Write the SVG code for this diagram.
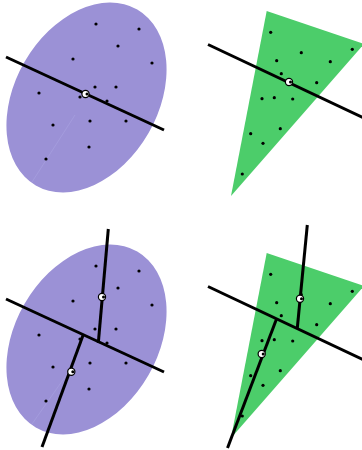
<svg xmlns="http://www.w3.org/2000/svg" width="362" height="450" viewBox="0 0 362 450">
<defs>
<style>
.ell{fill:#9b91d6}
.tri{fill:#4ccd6a}
.seam{stroke:#aaa2e0;stroke-width:0.6;fill:none}
.ln{stroke:#000;stroke-width:3;fill:none;stroke-linecap:butt}
.pt{fill:#000}
.cw{fill:#fff;stroke:#000;stroke-width:1.2}
</style>
<g id="cen">
<circle class="cw" cx="0" cy="0" r="3.6"/>
<circle class="pt" cx="1.5" cy="0" r="1.5"/>
</g>
</defs>

<g id="panel-ellipse-1">
<ellipse class="ell" cx="86.5" cy="97.5" rx="101.5" ry="71.5" transform="rotate(-60 86.5 97.5)"/>
<line class="seam" x1="75" y1="115" x2="32" y2="182"/>
<g id="dots-e1">
<circle class="pt" cx="96" cy="24" r="1.6"/><circle class="pt" cx="139" cy="29" r="1.6"/>
<circle class="pt" cx="118" cy="46" r="1.6"/><circle class="pt" cx="73" cy="59" r="1.6"/>
<circle class="pt" cx="152" cy="63" r="1.6"/><circle class="pt" cx="39" cy="93" r="1.6"/>
<circle class="pt" cx="95" cy="87" r="1.6"/><circle class="pt" cx="116" cy="87" r="1.6"/>
<circle class="pt" cx="80" cy="97" r="1.6"/><circle class="pt" cx="107" cy="101" r="1.6"/>
<circle class="pt" cx="53" cy="125" r="1.6"/><circle class="pt" cx="90" cy="121" r="1.6"/>
<circle class="pt" cx="126" cy="121" r="1.6"/><circle class="pt" cx="89" cy="147" r="1.6"/>
<circle class="pt" cx="46" cy="159" r="1.6"/>
</g>
</g>

<g id="panel-triangle-1">
<polygon class="tri" points="266.7,11 364,44 231,196"/>
<g id="dots-t1">
<circle class="pt" cx="270.7" cy="32.3" r="1.6"/><circle class="pt" cx="301.3" cy="52.7" r="1.6"/>
<circle class="pt" cx="352.3" cy="49.3" r="1.6"/><circle class="pt" cx="276.7" cy="60.7" r="1.6"/>
<circle class="pt" cx="330.3" cy="61.7" r="1.6"/><circle class="pt" cx="281.3" cy="73.7" r="1.6"/>
<circle class="pt" cx="316.7" cy="82.7" r="1.6"/><circle class="pt" cx="262" cy="98.7" r="1.6"/>
<circle class="pt" cx="274.3" cy="97.7" r="1.6"/><circle class="pt" cx="292.7" cy="99" r="1.6"/>
<circle class="pt" cx="280.3" cy="128.7" r="1.6"/><circle class="pt" cx="250.7" cy="133.7" r="1.6"/>
<circle class="pt" cx="263" cy="143.3" r="1.6"/><circle class="pt" cx="242.3" cy="174" r="1.6"/>
</g>
</g>

<g id="panel-ellipse-2">
<ellipse class="ell" cx="86.5" cy="339.5" rx="101.5" ry="71.5" transform="rotate(-60 86.5 339.5)"/>
<line class="seam" x1="67" y1="374" x2="32" y2="424"/>
<g id="dots-e2" transform="translate(0 242)">
<circle class="pt" cx="96" cy="24" r="1.6"/><circle class="pt" cx="139" cy="29" r="1.6"/>
<circle class="pt" cx="118" cy="46" r="1.6"/><circle class="pt" cx="73" cy="59" r="1.6"/>
<circle class="pt" cx="152" cy="63" r="1.6"/><circle class="pt" cx="39" cy="93" r="1.6"/>
<circle class="pt" cx="95" cy="87" r="1.6"/><circle class="pt" cx="116" cy="87" r="1.6"/>
<circle class="pt" cx="80" cy="97" r="1.6"/><circle class="pt" cx="107" cy="101" r="1.6"/>
<circle class="pt" cx="53" cy="125" r="1.6"/><circle class="pt" cx="90" cy="121" r="1.6"/>
<circle class="pt" cx="126" cy="121" r="1.6"/><circle class="pt" cx="89" cy="147" r="1.6"/>
<circle class="pt" cx="46" cy="159" r="1.6"/>
</g>
</g>

<g id="panel-triangle-2">
<polygon class="tri" points="266.7,253 364,286 231,438"/>
<g id="dots-t2" transform="translate(0 242)">
<circle class="pt" cx="270.7" cy="32.3" r="1.6"/><circle class="pt" cx="301.3" cy="52.7" r="1.6"/>
<circle class="pt" cx="352.3" cy="49.3" r="1.6"/><circle class="pt" cx="276.7" cy="60.7" r="1.6"/>
<circle class="pt" cx="330.3" cy="61.7" r="1.6"/><circle class="pt" cx="281.3" cy="73.7" r="1.6"/>
<circle class="pt" cx="316.7" cy="82.7" r="1.6"/><circle class="pt" cx="262" cy="98.7" r="1.6"/>
<circle class="pt" cx="274.3" cy="97.7" r="1.6"/><circle class="pt" cx="292.7" cy="99" r="1.6"/>
<circle class="pt" cx="280.3" cy="128.7" r="1.6"/><circle class="pt" cx="250.7" cy="133.7" r="1.6"/>
<circle class="pt" cx="263" cy="143.3" r="1.6"/><circle class="pt" cx="242.3" cy="174" r="1.6"/>
</g>
</g>

<g id="connectors">
<line class="ln" x1="6" y1="57" x2="164" y2="130"/>
<line class="ln" x1="208" y1="44.5" x2="364" y2="118"/>
<line class="ln" x1="6" y1="299" x2="164" y2="372"/>
<line class="ln" x1="108.3" y1="229" x2="98.3" y2="343"/>
<line class="ln" x1="83.5" y1="334" x2="42" y2="447"/>
<line class="ln" x1="208" y1="286.5" x2="364" y2="360"/>
<line class="ln" x1="307.3" y1="225" x2="297.3" y2="328"/>
<line class="ln" x1="276.7" y1="318.5" x2="227.5" y2="448"/>
</g>

<g id="centroids">
<use href="#cen" x="85.5" y="94"/>
<use href="#cen" x="289" y="82"/>
<use href="#cen" x="102" y="297"/>
<use href="#cen" x="71.3" y="371.7"/>
<use href="#cen" x="300" y="298.7"/>
<use href="#cen" x="261.7" y="354"/>
</g>
</svg>
